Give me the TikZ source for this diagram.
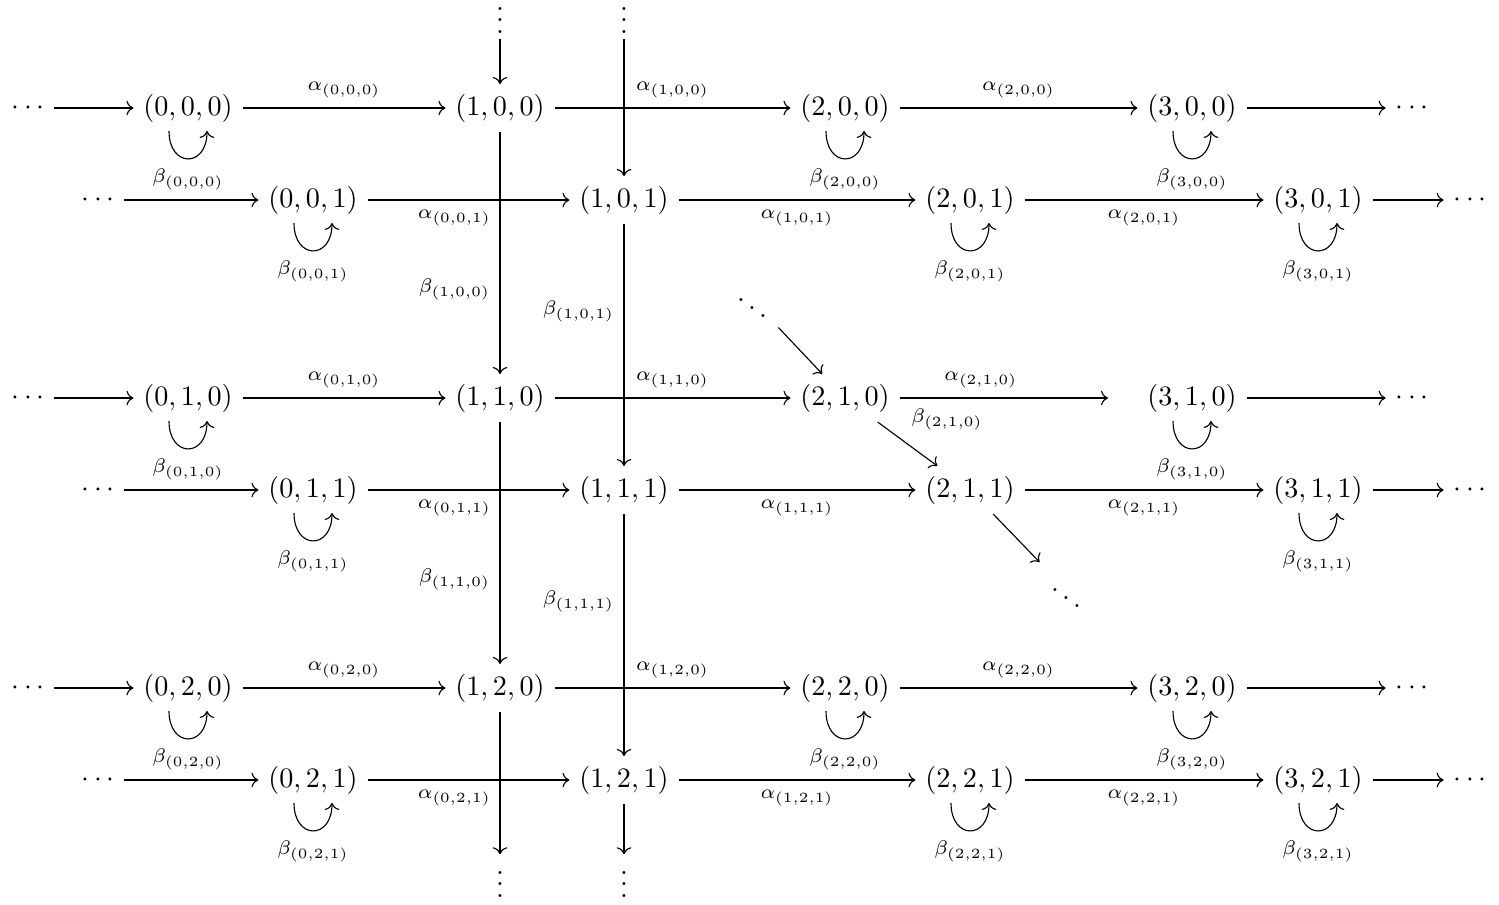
\documentclass[tikz,border=0pt]{standalone}
\usetikzlibrary{arrows.meta}

\begin{document}
\begin{tikzpicture}[x=0.355pt, y=0.355pt,
    >={Computer Modern Rightarrow},
    lbl/.style={font=\scriptsize},
    cup/.style={out=-90, in=-90, looseness=2.5},
  ]
  \useasboundingbox (0,0) rectangle (1499,-904);

  % layer z = 0
  \node (l00) at (28,-108) {$\cdots$};
  \node (n000) at (188,-108) {$(0,0,0)$};
  \node (n100) at (500,-108) {$(1,0,0)$};
  \node (n200) at (845,-108) {$(2,0,0)$};
  \node (n300) at (1192,-108) {$(3,0,0)$};
  \node (r00) at (1412,-108) {$\cdots$};

  \node (l10) at (28,-398) {$\cdots$};
  \node (n010) at (188,-398) {$(0,1,0)$};
  \node (n110) at (500,-398) {$(1,1,0)$};
  \node (n210) at (845,-398) {$(2,1,0)$};
  \coordinate (e210) at (1108,-398);
  \node (n310) at (1192,-398) {$(3,1,0)$};
  \node (r10) at (1412,-398) {$\cdots$};

  \node (l20) at (28,-688) {$\cdots$};
  \node (n020) at (188,-688) {$(0,2,0)$};
  \node (n120) at (500,-688) {$(1,2,0)$};
  \node (n220) at (845,-688) {$(2,2,0)$};
  \node (n320) at (1192,-688) {$(3,2,0)$};
  \node (r20) at (1412,-688) {$\cdots$};

  % layer z = 1
  \node (l01) at (98,-200) {$\cdots$};
  \node (n001) at (313,-200) {$(0,0,1)$};
  \node (n101) at (624,-200) {$(1,0,1)$};
  \node (n201) at (970,-200) {$(2,0,1)$};
  \node (n301) at (1318,-200) {$(3,0,1)$};
  \node (r01) at (1470,-200) {$\cdots$};

  \node (l11) at (98,-490) {$\cdots$};
  \node (n011) at (313,-490) {$(0,1,1)$};
  \node (n111) at (624,-490) {$(1,1,1)$};
  \node (n211) at (970,-490) {$(2,1,1)$};
  \node (n311) at (1318,-490) {$(3,1,1)$};
  \node (r11) at (1470,-490) {$\cdots$};

  \node (l21) at (98,-780) {$\cdots$};
  \node (n021) at (313,-780) {$(0,2,1)$};
  \node (n121) at (624,-780) {$(1,2,1)$};
  \node (n221) at (970,-780) {$(2,2,1)$};
  \node (n321) at (1318,-780) {$(3,2,1)$};
  \node (r21) at (1470,-780) {$\cdots$};

  % dots at the ends of the columns and the diagonal
  \node[inner ysep=2pt] (t0) at (500,-12) {$\vdots$};
  \node[inner ysep=2pt] (t1) at (624,-12) {$\vdots$};
  \node[inner ysep=0pt] (b0) at (500,-876) {$\vdots$};
  \node[inner ysep=0pt] (b1) at (624,-876) {$\vdots$};
  \node (d1) at (752,-299.5) {$\ddots$};
  \node (d2) at (1066,-589.5) {$\ddots$};

  % alpha arrows, z = 0
  \draw[->] (l00) -- (n000);
  \draw[->] (n000) -- node[above, lbl] {$\alpha_{(0,0,0)}$} (n100);
  \draw[->] (n100) -- node[above, lbl] {$\alpha_{(1,0,0)}$} (n200);
  \draw[->] (n200) -- node[above, lbl] {$\alpha_{(2,0,0)}$} (n300);
  \draw[->] (n300) -- (r00);

  \draw[->] (l10) -- (n010);
  \draw[->] (n010) -- node[above, lbl] {$\alpha_{(0,1,0)}$} (n110);
  \draw[->] (n110) -- node[above, lbl] {$\alpha_{(1,1,0)}$} (n210);
  \draw[->] (n210) -- node[above, lbl, pos=.39] {$\alpha_{(2,1,0)}$} (e210);
  \draw[->] (n310) -- (r10);

  \draw[->] (l20) -- (n020);
  \draw[->] (n020) -- node[above, lbl] {$\alpha_{(0,2,0)}$} (n120);
  \draw[->] (n120) -- node[above, lbl] {$\alpha_{(1,2,0)}$} (n220);
  \draw[->] (n220) -- node[above, lbl] {$\alpha_{(2,2,0)}$} (n320);
  \draw[->] (n320) -- (r20);

  % alpha arrows, z = 1
  \draw[->] (l01) -- (n001);
  \draw[->] (n001) -- node[below, lbl, pos=.43] {$\alpha_{(0,0,1)}$} (n101);
  \draw[->] (n101) -- node[below, lbl] {$\alpha_{(1,0,1)}$} (n201);
  \draw[->] (n201) -- node[below, lbl] {$\alpha_{(2,0,1)}$} (n301);
  \draw[->] (n301) -- (r01);

  \draw[->] (l11) -- (n011);
  \draw[->] (n011) -- node[below, lbl, pos=.43] {$\alpha_{(0,1,1)}$} (n111);
  \draw[->] (n111) -- node[below, lbl] {$\alpha_{(1,1,1)}$} (n211);
  \draw[->] (n211) -- node[below, lbl] {$\alpha_{(2,1,1)}$} (n311);
  \draw[->] (n311) -- (r11);

  \draw[->] (l21) -- (n021);
  \draw[->] (n021) -- node[below, lbl, pos=.43] {$\alpha_{(0,2,1)}$} (n121);
  \draw[->] (n121) -- node[below, lbl] {$\alpha_{(1,2,1)}$} (n221);
  \draw[->] (n221) -- node[below, lbl] {$\alpha_{(2,2,1)}$} (n321);
  \draw[->] (n321) -- (r21);

  % beta arrows down the columns
  \draw[->] (t0) -- (n100);
  \draw[->] (n100) -- node[left, lbl, pos=.65] {$\beta_{(1,0,0)}$} (n110);
  \draw[->] (n110) -- node[left, lbl, pos=.65] {$\beta_{(1,1,0)}$} (n120);
  \draw[->] (n120) -- (b0);
  \draw[->] (t1) -- (n101);
  \draw[->] (n101) -- node[left, lbl, pos=.36] {$\beta_{(1,0,1)}$} (n111);
  \draw[->] (n111) -- node[left, lbl, pos=.36] {$\beta_{(1,1,1)}$} (n121);
  \draw[->] (n121) -- (b1);

  % diagonal
  \draw[->] (d1) -- (n210);
  \draw[->] (n210) -- node[above right, lbl, pos=.4] {$\beta_{(2,1,0)}$} (n211);
  \draw[->] (n211) -- (d2);

  % beta loops
  \draw[->] ([shift={(-19,-23)}]n000.center) to[cup] node[below, lbl] {$\beta_{(0,0,0)}$} ([shift={(19,-23)}]n000.center);
  \draw[->] ([shift={(-19,-23)}]n010.center) to[cup] node[below, lbl] {$\beta_{(0,1,0)}$} ([shift={(19,-23)}]n010.center);
  \draw[->] ([shift={(-19,-23)}]n020.center) to[cup] node[below, lbl] {$\beta_{(0,2,0)}$} ([shift={(19,-23)}]n020.center);
  \draw[->] ([shift={(-19,-23)}]n001.center) to[cup] node[below, lbl] {$\beta_{(0,0,1)}$} ([shift={(19,-23)}]n001.center);
  \draw[->] ([shift={(-19,-23)}]n011.center) to[cup] node[below, lbl] {$\beta_{(0,1,1)}$} ([shift={(19,-23)}]n011.center);
  \draw[->] ([shift={(-19,-23)}]n021.center) to[cup] node[below, lbl] {$\beta_{(0,2,1)}$} ([shift={(19,-23)}]n021.center);
  \draw[->] ([shift={(-19,-23)}]n200.center) to[cup] node[below, lbl] {$\beta_{(2,0,0)}$} ([shift={(19,-23)}]n200.center);
  \draw[->] ([shift={(-19,-23)}]n220.center) to[cup] node[below, lbl] {$\beta_{(2,2,0)}$} ([shift={(19,-23)}]n220.center);
  \draw[->] ([shift={(-19,-23)}]n201.center) to[cup] node[below, lbl] {$\beta_{(2,0,1)}$} ([shift={(19,-23)}]n201.center);
  \draw[->] ([shift={(-19,-23)}]n221.center) to[cup] node[below, lbl] {$\beta_{(2,2,1)}$} ([shift={(19,-23)}]n221.center);
  \draw[->] ([shift={(-19,-23)}]n300.center) to[cup] node[below, lbl] {$\beta_{(3,0,0)}$} ([shift={(19,-23)}]n300.center);
  \draw[->] ([shift={(-19,-23)}]n310.center) to[cup] node[below, lbl] {$\beta_{(3,1,0)}$} ([shift={(19,-23)}]n310.center);
  \draw[->] ([shift={(-19,-23)}]n320.center) to[cup] node[below, lbl] {$\beta_{(3,2,0)}$} ([shift={(19,-23)}]n320.center);
  \draw[->] ([shift={(-19,-23)}]n301.center) to[cup] node[below, lbl] {$\beta_{(3,0,1)}$} ([shift={(19,-23)}]n301.center);
  \draw[->] ([shift={(-19,-23)}]n311.center) to[cup] node[below, lbl] {$\beta_{(3,1,1)}$} ([shift={(19,-23)}]n311.center);
  \draw[->] ([shift={(-19,-23)}]n321.center) to[cup] node[below, lbl] {$\beta_{(3,2,1)}$} ([shift={(19,-23)}]n321.center);
\end{tikzpicture}
\end{document}
